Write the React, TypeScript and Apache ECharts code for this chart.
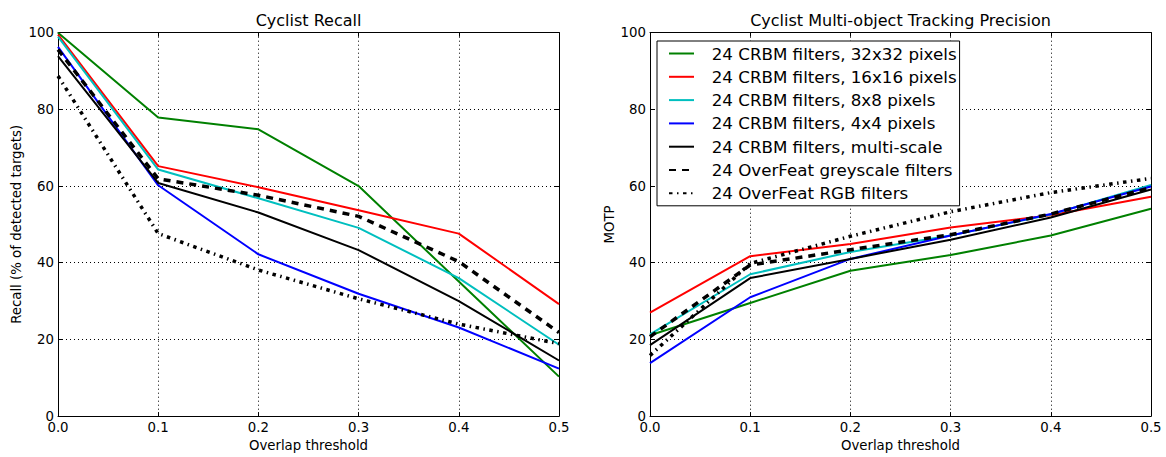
import React, { useEffect, useRef } from "react";
import * as echarts from "echarts";

const thresholds = [0.0, 0.1, 0.2, 0.3, 0.4, 0.5];
const seriesNames = [
  "24 CRBM filters, 32x32 pixels",
  "24 CRBM filters, 16x16 pixels",
  "24 CRBM filters, 8x8 pixels",
  "24 CRBM filters, 4x4 pixels",
  "24 CRBM filters, multi-scale",
  "24 OverFeat greyscale filters",
  "24 OverFeat RGB filters",
];

// Recall (% of detected targets)
const recall32 = [100, 77.9, 74.8, 60.0, 35.1, 10.3];
const recall16 = [99.5, 65.2, 59.7, 53.7, 47.6, 29.2];
const recall8 = [99.0, 64.3, 56.8, 49.1, 36.0, 18.6];
const recall4 = [96.3, 60.2, 42.2, 31.9, 23.1, 12.4];
const recallMulti = [93.9, 60.8, 53.1, 43.3, 30.0, 14.5];
const recallGrey = [95.6, 61.9, 57.6, 52.1, 40.3, 21.8];
const recallRGB = [88.7, 47.6, 38.1, 30.6, 24.0, 18.9];

// MOTP
const motp32 = [21.1, 29.5, 37.9, 42.0, 47.1, 54.1];
const motp16 = [27.0, 41.7, 44.9, 49.2, 52.4, 57.2];
const motp8 = [21.3, 37.0, 42.8, 47.1, 52.6, 60.3];
const motp4 = [13.8, 31.0, 41.0, 47.1, 52.7, 59.9];
const motpMulti = [18.5, 36.0, 41.0, 46.0, 51.8, 59.1];
const motpGrey = [20.7, 39.4, 43.4, 47.3, 52.7, 59.6];
const motpRGB = [15.8, 39.8, 46.9, 53.3, 58.3, 62.0];

const xTicks = ["0.0", "0.1", "0.2", "0.3", "0.4", "0.5"];

const recallData = [recall32, recall16, recall8, recall4, recallMulti, recallGrey, recallRGB];
const motpData = [motp32, motp16, motp8, motp4, motpMulti, motpGrey, motpRGB];

const styles = [
  { color: "#008000", width: 2, type: "solid" as any },
  { color: "#ff0000", width: 2, type: "solid" as any },
  { color: "#00bfbf", width: 2, type: "solid" as any },
  { color: "#0000ff", width: 2, type: "solid" as any },
  { color: "#000000", width: 2, type: "solid" as any },
  { color: "#000000", width: 3.5, type: [7, 6] as any },
  { color: "#000000", width: 3.5, type: [3.5, 4.5, 1.5, 4.5] as any },
];

const FONT = "DejaVu Sans";
const TICK_FS = 13.3;

export default function App() {
  const ref = useRef<HTMLDivElement>(null);
  useEffect(() => {
    if (!ref.current) return;
    const chart = echarts.init(ref.current, undefined, { renderer: "svg" });

    const grids = [
      { left: 58, top: 32.7, width: 501, height: 388 },
      { left: 650, top: 32.7, width: 501, height: 388 },
    ];

    const mainX = (gi: number) => ({
      type: "value",
      gridIndex: gi,
      min: 0,
      max: 0.5,
      interval: 0.1,
      position: "bottom",
      name: "Overlap threshold",
      nameLocation: "middle",
      nameGap: 21,
      nameTextStyle: { fontFamily: FONT, fontSize: TICK_FS, color: "#000" },
      axisLine: { show: true, onZero: false, lineStyle: { color: "#000", width: 1 } },
      axisTick: { show: true, inside: true, length: 4, lineStyle: { color: "#000" } },
      axisLabel: {
        show: true,
        margin: 5,
        fontFamily: FONT,
        fontSize: TICK_FS,
        color: "#000",
        formatter: (v: number) => xTicks[Math.round(v * 10)] ?? v.toFixed(1),
      },
      splitLine: { show: true, lineStyle: { color: "#000", width: 1, type: [1, 3] } },
    });
    const topX = (gi: number) => ({
      type: "value",
      gridIndex: gi,
      min: 0,
      max: 0.5,
      interval: 0.1,
      position: "top",
      axisLine: { show: true, onZero: false, lineStyle: { color: "#000", width: 1 } },
      axisTick: { show: true, inside: true, length: 4, lineStyle: { color: "#000" } },
      axisLabel: { show: false },
      splitLine: { show: false },
    });
    const mainY = (gi: number, name: string, gap: number) => ({
      type: "value",
      gridIndex: gi,
      min: 0,
      max: 100,
      interval: 20,
      position: "left",
      name,
      nameLocation: "middle",
      nameGap: gap,
      nameTextStyle: { fontFamily: FONT, fontSize: TICK_FS, color: "#000" },
      axisLine: { show: true, onZero: false, lineStyle: { color: "#000", width: 1 } },
      axisTick: { show: true, inside: true, length: 4, lineStyle: { color: "#000" } },
      axisLabel: { show: true, margin: 4, fontFamily: FONT, fontSize: TICK_FS, color: "#000" },
      splitLine: { show: true, lineStyle: { color: "#000", width: 1, type: [1, 3] } },
    });
    const rightY = (gi: number) => ({
      type: "value",
      gridIndex: gi,
      min: 0,
      max: 100,
      interval: 20,
      position: "right",
      axisLine: { show: true, onZero: false, lineStyle: { color: "#000", width: 1 } },
      axisTick: { show: true, inside: true, length: 4, lineStyle: { color: "#000" } },
      axisLabel: { show: false },
      splitLine: { show: false },
    });

    const series: any[] = [];
    recallData.forEach((vals, i) => {
      series.push({
        type: "line",
        name: seriesNames[i],
        xAxisIndex: 0,
        yAxisIndex: 0,
        data: thresholds.map((t, j) => [t, vals[j]]),
        symbol: "none",
        lineStyle: styles[i],
        itemStyle: { color: styles[i].color },
        z: 2 + i,
      });
    });
    motpData.forEach((vals, i) => {
      series.push({
        type: "line",
        name: seriesNames[i],
        xAxisIndex: 1,
        yAxisIndex: 1,
        data: thresholds.map((t, j) => [t, vals[j]]),
        symbol: "none",
        lineStyle: styles[i],
        itemStyle: { color: styles[i].color },
        z: 2 + i,
      });
    });

    const titleStyle = { fontFamily: FONT, fontSize: 16, fontWeight: "normal", color: "#000" };

    chart.setOption({
      animation: false,
      backgroundColor: "#fff",
      textStyle: { fontFamily: FONT },
      title: [
        { text: "Cyclist Recall", left: 308.5, top: 12, textAlign: "center", padding: 0, textStyle: titleStyle },
        {
          text: "Cyclist Multi-object Tracking Precision",
          left: 900.5,
          top: 12,
          textAlign: "center",
          padding: 0,
          textStyle: titleStyle,
        },
      ],
      legend: {
        orient: "vertical",
        left: 657,
        top: 41,
        selectedMode: false,
        data: seriesNames,
        itemWidth: 25,
        itemHeight: 14,
        itemGap: 6.3,
        padding: [4, 3, 4, 11],
        backgroundColor: "#fff",
        borderColor: "#000",
        borderWidth: 1,
        borderRadius: 0,
        itemStyle: { opacity: 0 },
        textStyle: {
          fontFamily: FONT,
          fontSize: 16.7,
          color: "#000",
          padding: [0, 0, 0, 12.7],
        },
        z: 20,
      },
      grid: grids,
      xAxis: [mainX(0), mainX(1), topX(0), topX(1)],
      yAxis: [
        mainY(0, "Recall (% of detected targets)", 35),
        mainY(1, "MOTP", 34),
        rightY(0),
        rightY(1),
      ],
      series,
    });
    return () => chart.dispose();
  }, []);
  return (
    <div
      ref={ref}
      style={{ position: "fixed", left: 0, top: 0, width: 1166, height: 457, background: "#fff" }}
    />
  );
}
